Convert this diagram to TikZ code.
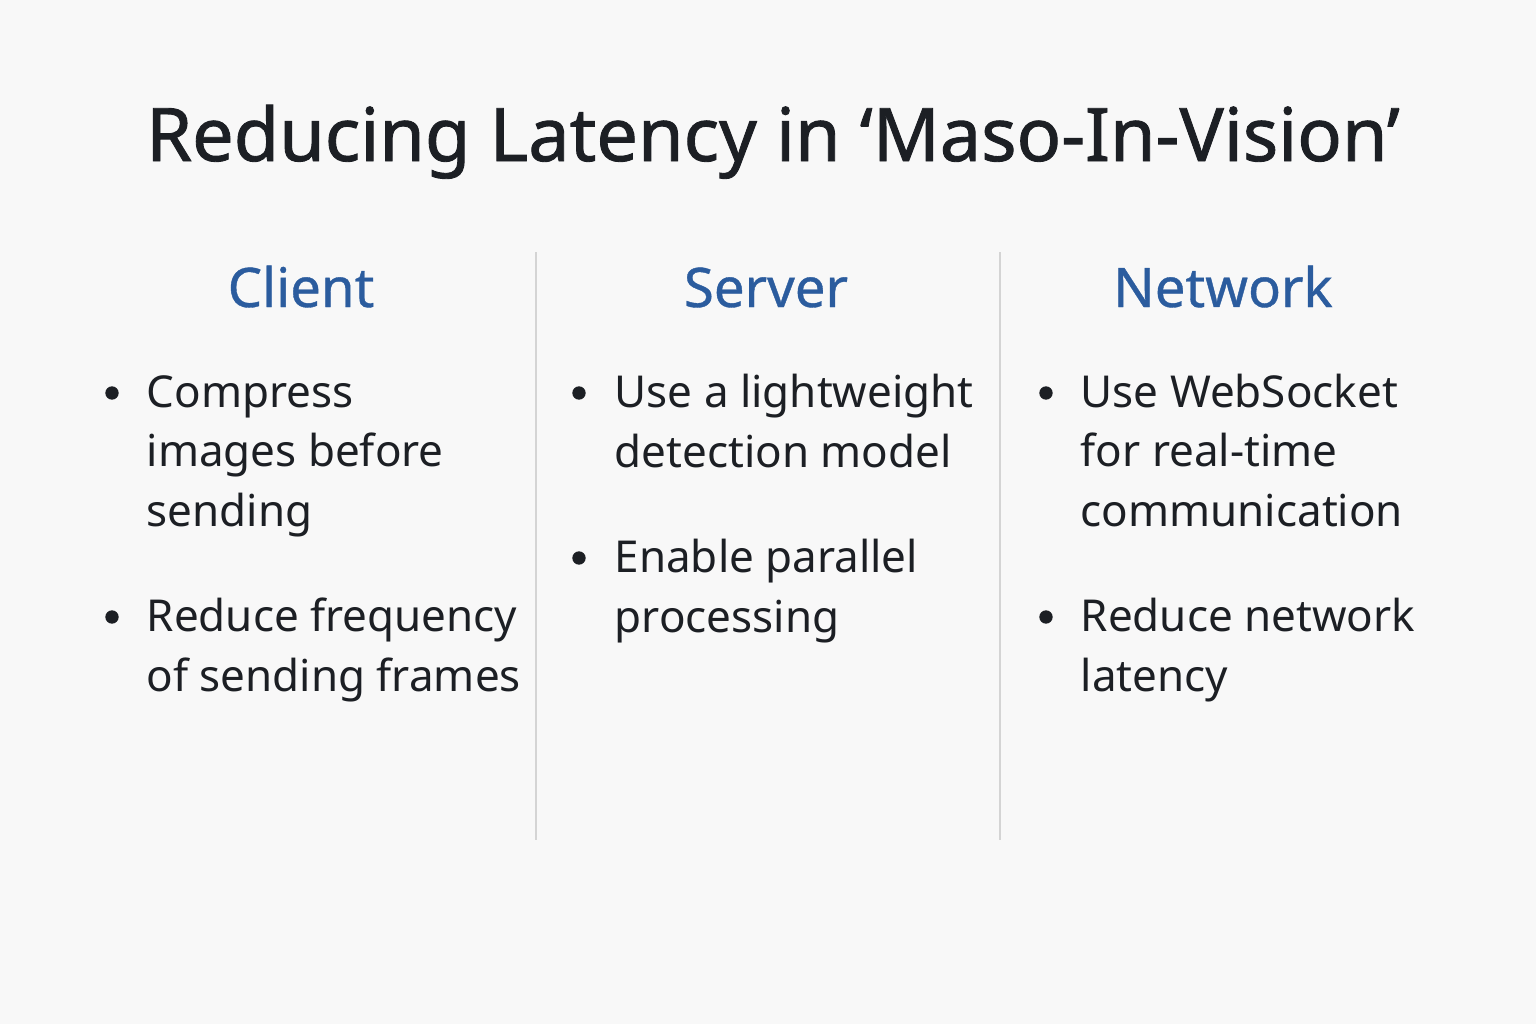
\documentclass[tikz,border=0pt]{standalone}
\usepackage{fontspec}
\setmainfont{Noto Sans}
\newfontfamily\titlefont[FakeBold=1.2]{Noto Sans}
\newfontfamily\headfont[FakeBold=0.7]{Noto Sans}
\definecolor{bgc}{HTML}{F8F8F8}
\definecolor{txt}{HTML}{1C1F24}
\definecolor{head}{HTML}{2B5C9E}
\definecolor{divc}{HTML}{D4D4D4}
\begin{document}
\begin{tikzpicture}[x=0.01cm,y=-0.01cm,
  title/.style={anchor=base,text=txt,font=\titlefont\fontsize{21}{25}\selectfont,inner sep=0},
  colhead/.style={anchor=base,text=head,font=\headfont\fontsize{15.5}{18}\selectfont,inner sep=0},
  item/.style={anchor=base west,text=txt,align=left,font=\fontsize{12.5}{16.8}\selectfont,inner sep=0},
  dot/.style={circle,fill=txt,minimum size=3.8pt,inner sep=0},
  divider/.style={draw=divc,line width=0.8pt}]
\fill[bgc] (0,0) rectangle (1536,1024);
\useasboundingbox (0,0) rectangle (1536,1024);
\node[title] (t) at (773,161) {Reducing Latency in ‘Maso-In-Vision’};
\node[colhead] (h1) at (301,307) {Client};
\node[colhead] (h2) at (766,307) {Server};
\node[colhead] (h3) at (1223,307) {Network};
\coordinate (d1a) at (536,252); \coordinate (d1b) at (536,840);
\coordinate (d2a) at (1000,252); \coordinate (d2b) at (1000,840);
\draw[divider] (d1a) -- (d1b);
\draw[divider] (d2a) -- (d2b);
% Client
\node[dot] (b11) at (112,393) {};
\node[item] (c1) at (146,526) {Compress\\images before\\sending};
\node[dot] (b12) at (112,617) {};
\node[item] (c2) at (146,691) {Reduce frequency\\of sending frames};
% Server
\node[dot] (b21) at (579,393) {};
\node[item] (s1) at (614,467) {Use a lightweight\\detection model};
\node[dot] (b22) at (579,558) {};
\node[item] (s2) at (614,632) {Enable parallel\\processing};
% Network
\node[dot] (b31) at (1046,393) {};
\node[item] (n1) at (1080,526) {Use WebSocket\\for real-time\\communication};
\node[dot] (b32) at (1046,617) {};
\node[item] (n2) at (1080,691) {Reduce network\\latency};
\end{tikzpicture}
\end{document}
